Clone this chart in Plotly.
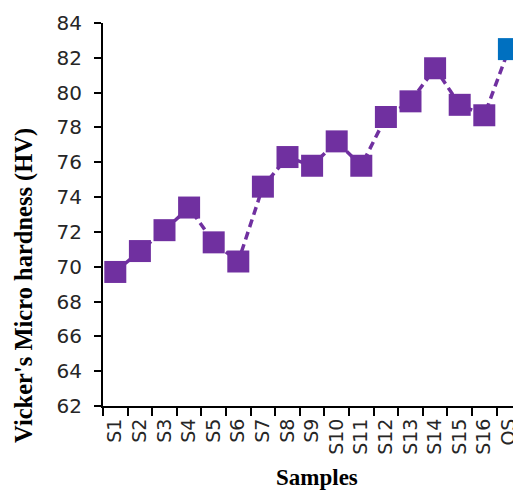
import plotly.graph_objects as go

samples = ["S1", "S2", "S3", "S4", "S5", "S6", "S7", "S8", "S9", "S10", "S11",
           "S12", "S13", "S14", "S15", "S16", "OS"]
hardness = [69.7, 70.9, 72.1, 73.4, 71.4, 70.3, 74.6, 76.3, 75.8, 77.2, 75.8,
            78.6, 79.5, 81.4, 79.3, 78.7, 82.5]
point_colors = ["#7030A0"] * 16 + ["#0070C0"]
y_ticks = [62, 64, 66, 68, 70, 72, 74, 76, 78, 80, 82, 84]

fig = go.Figure()
fig.add_trace(go.Scatter(
    x=samples, y=hardness, mode="lines+markers",
    line=dict(color="#7030A0", width=3.5, dash="8px,5px"),
    marker=dict(symbol="square", size=22, color=point_colors, line=dict(width=0)),
    cliponaxis=False, showlegend=False,
))

# page body has an 8px margin: figure starts at (8, 8) on the page
OFF = 8
W, H = 521 - OFF, 491 - OFF
L, R, T, B = 102.5 - OFF, 0, 22.7 - OFF, 85.3
pw, ph = W - L - R, H - T - B
cat_w = 25.1

def px_x(p):  # page pixel -> paper x
    return (p - OFF - L) / pw

def px_y(p):  # page pixel -> paper y
    return (H - B - (p - OFF)) / ph

fig.update_layout(
    width=W, height=H,
    margin=dict(l=L, r=R, t=T, b=B, pad=0),
    paper_bgcolor="white", plot_bgcolor="white",
    font=dict(family="DejaVu Sans", size=18, color="#262626"),
    xaxis=dict(
        type="category", range=[-0.5, -0.5 + (pw + 8) / cat_w],
        showline=True, linecolor="black", linewidth=2,
        ticks="outside", ticklen=8, tickwidth=2, tickcolor="black",
        tickson="boundaries", tickangle=-90, showgrid=False, zeroline=False,
        ticklabelstandoff=3,
        tickfont=dict(family="DejaVu Sans", size=19, color="#262626"),
    ),
    yaxis=dict(
        range=[62, 84], tickvals=y_ticks,
        showline=True, linecolor="black", linewidth=2,
        ticks="outside", ticklen=7, tickwidth=2, tickcolor="black",
        showgrid=False, zeroline=False, ticklabelstandoff=8,
        tickfont=dict(family="DejaVu Sans", size=20, color="#262626"),
    ),
    annotations=[
        dict(text="<b>Vicker's Micro hardness (HV)</b>", xref="paper", yref="paper",
             x=px_x(24), y=px_y(285), textangle=-90, showarrow=False,
             xanchor="center", yanchor="middle",
             font=dict(family="Liberation Serif", size=24.5, color="black")),
        dict(text="<b>Samples</b>", xref="paper", yref="paper",
             x=px_x(316.7), y=px_y(477), showarrow=False,
             xanchor="center", yanchor="middle",
             font=dict(family="Liberation Serif", size=23, color="black")),
    ],
)

fig.write_html("out.html")
